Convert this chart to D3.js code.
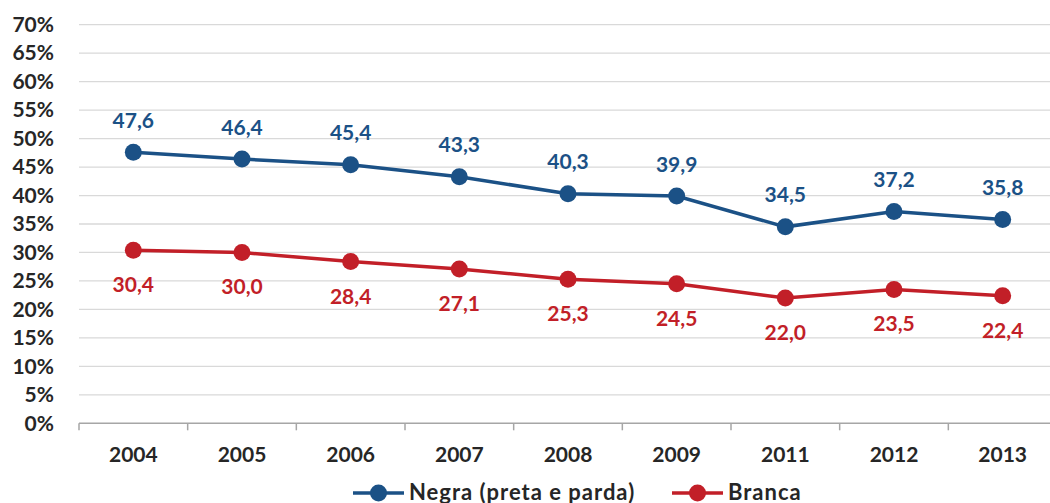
<!DOCTYPE html>
<html>
<head>
<meta charset="utf-8">
<script src="https://cdn.jsdelivr.net/npm/d3@7"></script>
<style>
  html, body { margin: 0; padding: 0; background: #fff; }
  svg { display: block; font-family: Lato, "Open Sans", sans-serif; font-weight: 700; }
</style>
</head>
<body>
<svg id="chart" width="1050" height="503"></svg>
<script>
// Taxa por cor/raça, 2004–2013
const years = ["2004", "2005", "2006", "2007", "2008", "2009", "2011", "2012", "2013"];
const negra = [47.6, 46.4, 45.4, 43.3, 40.3, 39.9, 34.5, 37.2, 35.8];
const branca = [30.4, 30.0, 28.4, 27.1, 25.3, 24.5, 22.0, 23.5, 22.4];
const yTicks = [0, 5, 10, 15, 20, 25, 30, 35, 40, 45, 50, 55, 60, 65, 70];
const seriesNames = ["Negra (preta e parda)", "Branca"];

const colors = { negra: "#1b5186", branca: "#c21f28" };
const textColor = "#262626";

const svg = d3.select("#chart");
const plotLeft = 79, plotRight = 1057, plotTop = 24.7, plotBottom = 423.3;

const x = d3.scaleBand().domain(years).range([plotLeft, plotRight]);
const y = d3.scaleLinear().domain([0, 70]).range([plotBottom, plotTop]);
const fmt = d => d.toFixed(1).replace(".", ",");

// horizontal gridlines
svg.append("g")
  .selectAll("line")
  .data(yTicks.filter(d => d > 0))
  .join("line")
  .attr("x1", plotLeft).attr("x2", 1050)
  .attr("y1", d => y(d)).attr("y2", d => y(d))
  .attr("stroke", "#d9d9d9").attr("stroke-width", 1.3);

// y axis labels
const yAxis = svg.append("g")
  .attr("transform", `translate(${plotLeft},0)`)
  .call(d3.axisLeft(y).tickValues(yTicks).tickFormat(d => d + "%").tickSize(0).tickPadding(25));
yAxis.select(".domain").remove();
yAxis.selectAll("text")
  .attr("font-family", "Lato, sans-serif").attr("font-weight", 700)
  .attr("font-size", 21).attr("fill", textColor);

// x axis
const xAxis = svg.append("g")
  .attr("transform", `translate(0,${plotBottom})`)
  .call(d3.axisBottom(x).tickSize(0).tickPadding(24));
xAxis.select(".domain").attr("stroke", "#a6a6a6").attr("stroke-width", 1.5)
  .attr("d", `M${plotLeft},0H1050`);
xAxis.selectAll("text")
  .attr("font-family", "Lato, sans-serif").attr("font-weight", 700)
  .attr("font-size", 21).attr("fill", textColor);

// category boundary tick marks
svg.append("g")
  .selectAll("line")
  .data(years)
  .join("line")
  .attr("x1", d => x(d)).attr("x2", d => x(d))
  .attr("y1", plotBottom).attr("y2", plotBottom + 7)
  .attr("stroke", "#a6a6a6").attr("stroke-width", 1.5);

const cx = d => x(d) + x.bandwidth() / 2;
const line = d3.line().x(d => cx(d.year)).y(d => y(d.value));

function drawSeries(values, color, labelDy) {
  const data = years.map((yr, i) => ({ year: yr, value: values[i] }));
  const g = svg.append("g");
  g.append("path").datum(data)
    .attr("d", line).attr("fill", "none")
    .attr("stroke", color).attr("stroke-width", 3.5);
  g.selectAll("circle").data(data).join("circle")
    .attr("cx", d => cx(d.year)).attr("cy", d => y(d.value))
    .attr("r", 8.5).attr("fill", color);
  g.selectAll("text").data(data).join("text")
    .attr("x", d => cx(d.year)).attr("y", d => y(d.value) + labelDy)
    .attr("text-anchor", "middle")
    .attr("font-size", 21).attr("fill", color)
    .text(d => fmt(d.value));
}

drawSeries(negra, colors.negra, -24.5);
drawSeries(branca, colors.branca, 42);

// legend
const legend = svg.append("g");
const legendItems = [
  { name: seriesNames[0], color: colors.negra, x0: 353 },
  { name: seriesNames[1], color: colors.branca, x0: 672 }
];
const ly = 493;
legendItems.forEach(it => {
  legend.append("line")
    .attr("x1", it.x0).attr("x2", it.x0 + 51)
    .attr("y1", ly).attr("y2", ly)
    .attr("stroke", it.color).attr("stroke-width", 3.5);
  legend.append("circle")
    .attr("cx", it.x0 + 25.5).attr("cy", ly).attr("r", 8.5).attr("fill", it.color);
  legend.append("text")
    .attr("x", it.x0 + 56).attr("y", ly + 6.5)
    .attr("font-size", 22).attr("letter-spacing", 1).attr("fill", textColor)
    .text(it.name);
});
</script>
</body>
</html>
